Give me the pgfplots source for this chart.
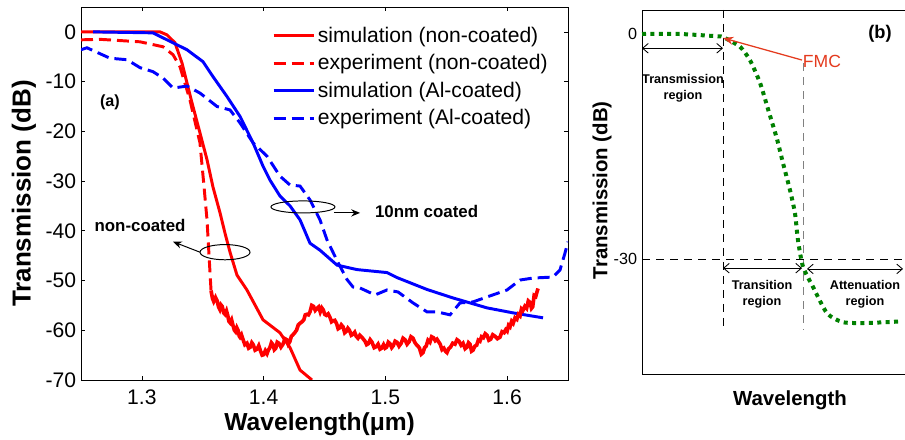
\documentclass[border=0pt]{standalone}
\usepackage{pgfplots}
\pgfplotsset{compat=1.18}
\usepackage{fontspec}
\setmainfont{Liberation Sans}
\usetikzlibrary{arrows.meta}

\definecolor{mred}{RGB}{255,0,0}
\definecolor{mblue}{RGB}{0,0,255}
\definecolor{mgreen}{RGB}{0,128,0}
\definecolor{fmc}{RGB}{228,58,30}

% (a) simulation, non-coated
\pgfplotstableread{
x y
1.2500 0
1.3149 0
1.3206 -0.6
1.3272 -2.2
1.3330 -6.3
1.3371 -10.3
1.3412 -14.3
1.3477 -20.3
1.3535 -25.7
1.3584 -31.2
1.3642 -36.4
1.3683 -40.5
1.3724 -44.3
1.3781 -48.9
1.3863 -51.9
1.3995 -57.9
1.4134 -60.5
1.4217 -63.5
1.4299 -68.0
1.4397 -70.0
}\simnc

% (a) experiment, non-coated (smooth part)
\pgfplotstableread{
x y
1.2500 -1.6
1.2656 -1.5
1.2985 -2.0
1.3174 -3.0
1.3256 -4.6
1.3313 -7.0
1.3395 -13.7
1.3477 -22.3
1.3510 -31.0
1.3535 -37.8
1.3568 -52.0
}\expnc

% (a) experiment, non-coated (noisy floor)
\pgfplotstableread{
x y
1.3568 -52.0
1.3580 -53.6
1.3590 -54.2
1.3605 -53.4
1.3617 -54.0
1.3630 -55.3
1.3640 -55.8
1.3650 -54.9
1.3660 -55.2
1.3672 -56.5
1.3683 -56.8
1.3695 -56.1
1.3705 -57.0
1.3715 -58.2
1.3725 -58.5
1.3737 -57.9
1.3748 -59.0
1.3760 -60.0
1.3770 -60.3
1.3780 -59.5
1.3790 -60.0
1.3800 -61.2
1.3806 -61.4
1.3818 -60.9
1.3830 -61.8
1.3846 -62.9
1.3863 -62.6
1.3877 -63.6
1.3890 -63.4
1.3903 -62.5
1.3915 -62.9
1.3930 -64.0
1.3946 -63.8
1.3960 -63.1
1.3975 -64.2
1.3988 -65.0
1.4000 -64.9
1.4014 -64.1
1.4028 -64.7
1.4040 -63.9
1.4050 -63.6
1.4064 -62.5
1.4077 -62.9
1.4088 -63.9
1.4100 -63.6
1.4112 -62.4
1.4125 -62.6
1.4142 -63.4
1.4159 -62.8
1.4175 -61.7
1.4190 -61.9
1.4202 -62.8
1.4215 -62.3
1.4228 -61.2
1.4241 -60.9
1.4255 -60.5
1.4270 -60.0
1.4285 -58.9
1.4299 -58.6
1.4315 -58.3
1.4330 -57.9
1.4342 -56.9
1.4355 -56.8
1.4368 -56.9
1.4381 -56.3
1.4395 -55.0
1.4410 -55.2
1.4424 -56.0
1.4438 -55.6
1.4452 -55.3
1.4465 -56.3
1.4478 -55.5
1.4490 -55.9
1.4502 -56.8
1.4515 -57.0
1.4530 -56.7
1.4545 -57.4
1.4558 -58.3
1.4570 -58.1
1.4585 -58.0
1.4600 -58.7
1.4612 -59.7
1.4625 -59.5
1.4638 -58.9
1.4652 -59.3
1.4666 -60.5
1.4680 -60.2
1.4692 -59.6
1.4705 -60.0
1.4720 -61.0
1.4734 -60.8
1.4748 -60.4
1.4760 -61.2
1.4775 -61.6
1.4790 -61.0
1.4810 -61.5
1.4833 -62.2
1.4846 -62.9
1.4860 -62.7
1.4875 -61.9
1.4890 -62.4
1.4908 -63.5
1.4925 -63.3
1.4940 -62.8
1.4956 -63.8
1.4970 -63.6
1.4985 -62.9
1.4998 -63.6
1.5010 -63.4
1.5024 -62.4
1.5038 -62.7
1.5052 -63.5
1.5065 -63.1
1.5080 -62.2
1.5095 -62.4
1.5112 -63.2
1.5130 -62.6
1.5145 -61.6
1.5161 -61.9
1.5178 -62.8
1.5195 -62.3
1.5210 -61.3
1.5227 -61.6
1.5241 -62.4
1.5255 -62.9
1.5268 -63.2
1.5280 -63.6
1.5295 -64.8
1.5309 -64.5
1.5322 -63.5
1.5335 -63.2
1.5350 -62.0
1.5366 -62.4
1.5380 -61.3
1.5395 -61.5
1.5410 -62.1
1.5424 -61.8
1.5437 -62.3
1.5450 -62.8
1.5465 -63.9
1.5480 -63.6
1.5493 -64.2
1.5506 -64.5
1.5520 -63.7
1.5535 -63.4
1.5553 -62.6
1.5572 -62.8
1.5588 -61.9
1.5605 -62.2
1.5622 -63.0
1.5638 -62.6
1.5655 -63.7
1.5670 -63.4
1.5683 -62.5
1.5695 -62.8
1.5708 -64.2
1.5720 -64.0
1.5735 -63.2
1.5750 -63.0
1.5763 -62.0
1.5777 -62.2
1.5790 -61.3
1.5805 -61.5
1.5820 -60.7
1.5835 -61.0
1.5850 -62.0
1.5865 -61.8
1.5882 -60.9
1.5900 -61.2
1.5920 -61.7
1.5941 -61.4
1.5958 -60.3
1.5975 -60.5
1.5988 -59.9
1.6000 -60.2
1.6012 -59.0
1.6024 -59.3
1.6037 -58.2
1.6050 -58.6
1.6065 -57.5
1.6080 -57.8
1.6093 -56.8
1.6106 -57.1
1.6118 -55.7
1.6130 -56.0
1.6145 -55.2
1.6160 -55.6
1.6174 -54.1
1.6188 -54.4
1.6200 -55.6
1.6210 -55.3
1.6222 -53.0
1.6235 -53.2
1.6245 -52.3
1.6254 -51.6
}\expncnoise

% (a) simulation, Al-coated
\pgfplotstableread{
x y
1.2599 0
1.3091 -0.2
1.3206 -1.6
1.3371 -3.6
1.3502 -6.0
1.3584 -9.0
1.3699 -13.0
1.3806 -17.0
1.3913 -22.3
1.3995 -27.0
1.4052 -29.8
1.4134 -33.0
1.4217 -35.0
1.4299 -37.8
1.4381 -42.5
1.4463 -43.9
1.4603 -46.9
1.4767 -47.8
1.5013 -48.4
1.5095 -49.4
1.5342 -51.8
1.5555 -53.5
1.5835 -55.5
1.6048 -56.5
1.6295 -57.5
}\simal

% (a) experiment, Al-coated
\pgfplotstableread{
x y
1.2500 -3.6
1.2549 -3.2
1.2738 -5.3
1.2878 -5.6
1.2985 -7.2
1.3091 -8.0
1.3174 -9.3
1.3256 -11.3
1.3371 -10.9
1.3477 -12.3
1.3617 -15.0
1.3724 -15.7
1.3806 -18.3
1.3913 -22.3
1.4028 -25.0
1.4134 -29.0
1.4217 -30.8
1.4299 -31.0
1.4381 -33.8
1.4463 -37.8
1.4520 -41.8
1.4603 -46.0
1.4685 -49.8
1.4734 -51.3
1.4792 -51.5
1.4915 -52.9
1.5013 -51.9
1.5104 -52.3
1.5227 -54.5
1.5342 -56.3
1.5424 -56.3
1.5531 -56.9
1.5613 -54.5
1.5720 -54.3
1.5835 -53.3
1.5999 -51.9
1.6106 -49.9
1.6213 -49.5
1.6377 -49.3
1.6434 -47.9
1.6475 -44.5
1.6500 -42.2
}\expal

% (b) schematic curve
\pgfplotstableread{
x y
0 0
38 0
75 -0.3
81 -0.4
98 -1.7
108 -3.5
118 -6.5
126 -10
135 -14
141 -17.2
148 -20.8
153 -23.9
156 -27.5
161 -31
171 -33.7
185 -37.2
201 -38.4
225 -38.5
258 -38.3
}\schem

\begin{document}
\begin{tikzpicture}
\begin{axis}[
  name=pa, at={(20.25mm,15mm)}, anchor=south west,
  scale only axis, width=121.75mm, height=93.25mm,
  xmin=1.25, xmax=1.65, ymin=-70, ymax=5,
  xtick={1.3,1.4,1.5,1.6}, xticklabels={1.3,1.4,1.5,1.6},
  ytick={-70,-60,-50,-40,-30,-20,-10,0},
  yticklabels={-70,-60,-50,-40,-30,-20,-10,0},
  tick align=inside, major tick length=1.1mm,
  tick style={black, line width=0.5pt},
  axis line style={line width=0.6pt},
  tick label style={font=\fontsize{15}{18}\selectfont},
  xticklabel style={yshift=-1.2mm},
  xlabel={\bfseries Wavelength(μm)},
  ylabel={\bfseries Transmission (dB)},
  xlabel style={font=\fontsize{17.5}{20}\selectfont, at={(axis description cs:0.49,-0.118)}, anchor=center},
  ylabel style={font=\fontsize{18.5}{21}\selectfont, at={(axis description cs:-0.117,0.5)}, anchor=center},
  legend style={at={(axis description cs:0.392,0.954)}, anchor=north west,
    draw=none, fill=none, font=\fontsize{15}{17}\selectfont,
    row sep=1.1mm, inner sep=0pt, cells={anchor=west}},
  legend image code/.code={\draw[#1] (0mm,0mm) -- (10mm,0mm);},
  clip=true,
]
\addplot[mred, line width=2.1pt] table {\simnc};
\addlegendentry{simulation (non-coated)}
\addplot[mred, line width=2.1pt, dash pattern=on 3mm off 1.5mm] table {\expnc};
\addlegendentry{experiment (non-coated)}
\addplot[mblue, line width=2.1pt] table {\simal};
\addlegendentry{simulation (Al-coated)}
\addplot[mblue, line width=2.1pt, dash pattern=on 3mm off 1.5mm] table {\expal};
\addlegendentry{experiment (Al-coated)}
\addplot[mred, line width=2.6pt, forget plot] table {\expncnoise};

\node[font=\bfseries\fontsize{11.5}{13}\selectfont] at (axis cs:1.2738,-14.1) {(a)};
\node[font=\bfseries\fontsize{12}{14}\selectfont] at (axis cs:1.2985,-39.0) {non-coated};
\draw[line width=0.7pt] (axis cs:1.3683,-44.3) ellipse [x radius=6.25mm, y radius=1.9mm];
\draw[line width=0.7pt, -{Stealth[length=2.2mm,width=1.8mm]}] (axis cs:1.3477,-44.3) -- (axis cs:1.3256,-42.2);
\draw[line width=0.7pt] (axis cs:1.4323,-35.2) ellipse [x radius=8mm, y radius=1.5mm];
\draw[line width=0.7pt, -{Stealth[length=2.2mm,width=1.8mm]}] (axis cs:1.4578,-36.4) -- (axis cs:1.4792,-36.4);
\node[font=\bfseries\fontsize{12}{14}\selectfont, anchor=west] at (axis cs:1.4874,-36.2) {10nm coated};
\end{axis}

\begin{axis}[
  name=pb, at={(160.5mm,16.5mm)}, anchor=south west,
  scale only axis, width=67mm, height=91mm,
  xmin=0, xmax=268, ymin=-45.3, ymax=3.2,
  xtick=\empty, ytick={-30,0}, yticklabels={-30,0},
  tick align=inside, major tick length=0.8mm,
  tick style={black, line width=0.5pt},
  axis line style={line width=0.6pt},
  tick label style={font=\fontsize{11.5}{13}\selectfont},
  xlabel={\bfseries Wavelength},
  ylabel={\bfseries Transmission (dB)},
  xlabel style={font=\fontsize{14.5}{17}\selectfont, at={(axis description cs:0.552,-0.071)}, anchor=center},
  ylabel style={font=\fontsize{14.5}{17}\selectfont, at={(axis description cs:-0.149,0.505)}, anchor=center},
  clip=false,
]
\addplot[black, line width=0.5pt, dash pattern=on 2mm off 1.5mm] coordinates {(81,3.2) (81,-39.1)};
\addplot[gray, line width=0.6pt, dash pattern=on 2mm off 1.5mm] coordinates {(161,-3.9) (161,-39.5)};
\addplot[black, line width=0.5pt, dash pattern=on 2mm off 1.5mm] coordinates {(0,-30) (268,-30)};
\addplot[mgreen, line width=1mm, dash pattern=on 1mm off 1.1mm, smooth, tension=0.4] table {\schem};

\draw[line width=0.6pt, {Straight Barb[length=1.4mm,width=2.4mm]}-{Straight Barb[length=1.4mm,width=2.4mm]}] (axis cs:0,-1.9) -- (axis cs:81,-1.9);
\node[font=\bfseries\fontsize{9}{11}\selectfont, align=center] at (axis cs:41,-7.2) {Transmission\\region};
\draw[line width=0.6pt, {Straight Barb[length=1.4mm,width=2.4mm]}-{Straight Barb[length=1.4mm,width=2.4mm]}] (axis cs:81,-31.2) -- (axis cs:160,-31.2);
\node[font=\bfseries\fontsize{9}{11}\selectfont, align=center] at (axis cs:120,-34.7) {Transition\\region};
\draw[line width=0.6pt, {Straight Barb[length=1.4mm,width=2.4mm]}-{Straight Barb[length=1.4mm,width=2.4mm]}] (axis cs:165,-31.3) -- (axis cs:261,-31.3);
\node[font=\bfseries\fontsize{9}{11}\selectfont, align=center] at (axis cs:223,-34.7) {Attenuation\\region};
\draw[fmc, line width=0.9pt, -{Stealth[length=2.6mm,width=2mm]}] (axis cs:160,-3.47) -- (axis cs:81,-0.53);
\node[fmc, font=\fontsize{12.5}{14}\selectfont, anchor=west, inner sep=0.5pt] at (axis cs:160,-3.6) {FMC};
\node[font=\bfseries\fontsize{13}{15}\selectfont] at (axis cs:238,0) {(b)};
\end{axis}
\pgfresetboundingbox
\path[use as bounding box] (0,0) rectangle (226.25mm,110mm);
\end{tikzpicture}
\end{document}
